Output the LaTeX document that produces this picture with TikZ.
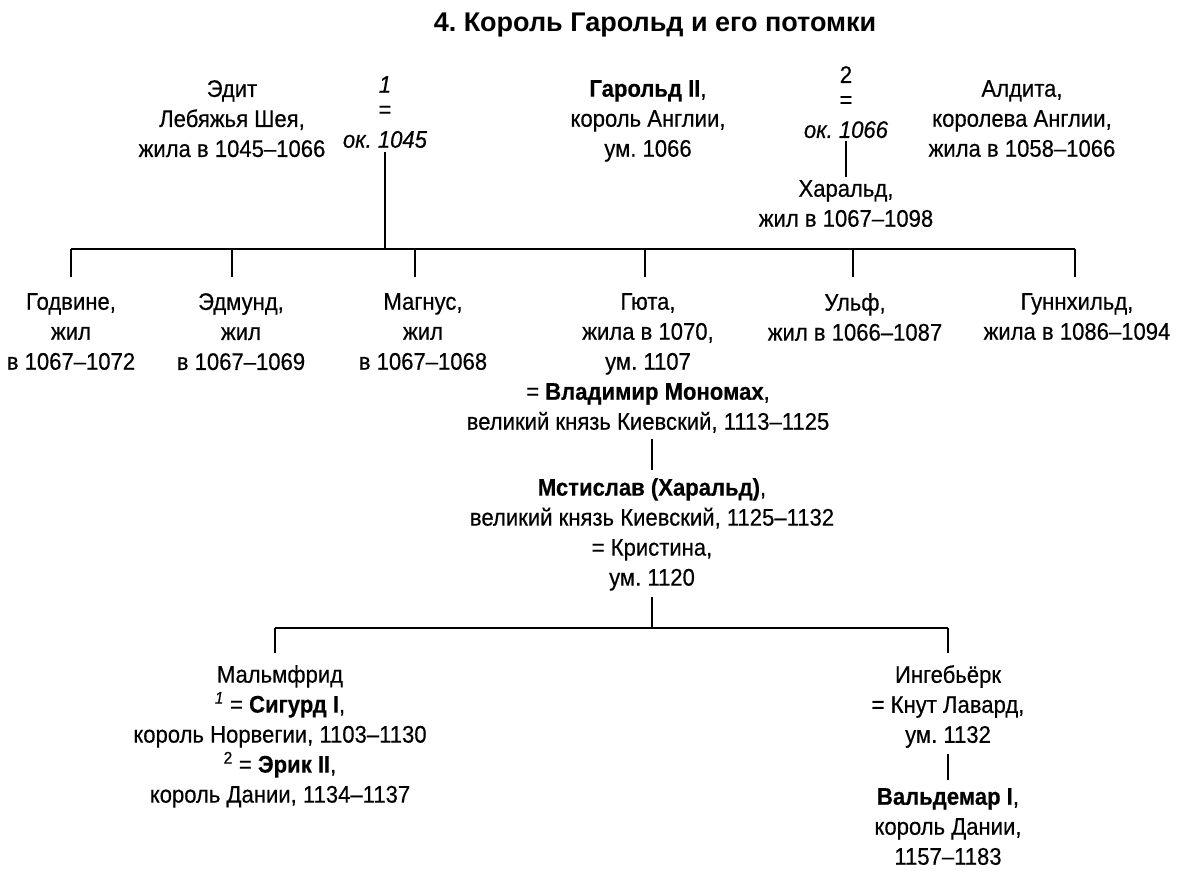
\documentclass[tikz,border=0pt]{standalone}
\usepackage{fontspec}
\setmainfont[FakeStretch=0.92,FakeBold=0.4]{Liberation Sans}
\newfontfamily\titlefont{Liberation Sans}
\frenchspacing

\tikzset{person/.style={align=center,inner sep=0pt,anchor=north,font=\fontsize{24}{30}\selectfont},
  line/.style={line width=1.8pt}}

\begin{document}
\begin{tikzpicture}[x=1pt,y=-1pt]
        \useasboundingbox (0,0) rectangle (1179,879);
        \node[font=\titlefont\bfseries\fontsize{27}{30}\selectfont] (title) at (655,25) {4. Король Гарольд и его потомки};

        \node[person] (edith) at (232,80) {Эдит\\Лебяжья Шея,\\жила в 1045–1066};
        \node[person] (wed1) at (385,76) {\textit{1}\\[-5pt]=\\\textit{ок. 1045}};
        \node[person] (harold) at (648,80) {\textbf{Гарольд II},\\король Англии,\\ум. 1066};
        \node[person] (wed2) at (846,66) {2\\[-5pt]=\\\textit{ок. 1066}};
        \node[person] (aldith) at (1022,80) {Алдита,\\королева Англии,\\жила в 1058–1066};
        \node[person] (harald) at (846,180) {Харальд,\\жил в 1067–1098};

        \node[person] (godwine) at (71,293) {Годвине,\\жил\\в 1067–1072};
        \node[person] (edmund) at (241,293) {Эдмунд,\\жил\\в 1067–1069};
        \node[person] (magnus) at (423,293) {Магнус,\\жил\\в 1067–1068};
        \node[person] (gyta) at (648,293) {Гюта,\\жила в 1070,\\ум. 1107\\= \textbf{Владимир Мономах},\\великий князь Киевский, 1113–1125};
        \node[person] (ulf) at (855,293) {Ульф,\\жил в 1066–1087};
        \node[person] (gunnhild) at (1077,293) {Гуннхильд,\\жила в 1086–1094};

        \node[person] (mstislav) at (652,478) {\textbf{Мстислав (Харальд)},\\великий князь Киевский, 1125–1132\\= Кристина,\\ум. 1120};

        \node[person] (malmfrid) at (280,665) {Мальмфрид\\\textsuperscript{\itshape 1} = \textbf{Сигурд I},\\король Норвегии, 1103–1130\\\textsuperscript{2} = \textbf{Эрик II},\\король Дании, 1134–1137};
        \node[person] (ingeborg) at (948,665) {Ингебьёрк\\= Кнут Лавард,\\ум. 1132};
        \node[person] (valdemar) at (948,788) {\textbf{Вальдемар I},\\король Дании,\\1157–1183};

        \coordinate (bar1w) at (71,249);
        \coordinate (bar1e) at (1075,249);
        \coordinate (bar2w) at (275,628);
        \coordinate (bar2e) at (948,628);

        \draw[line] (bar1w) -- (bar1e);
        \draw[line,shorten <=4pt] (wed1.south) -- (wed1.south |- bar1w);
        \draw[line,shorten <=3pt,shorten >=3pt] (wed2) -- (harald);
        \foreach \n/\x in {godwine/71,edmund/232,magnus/415,gyta/645,ulf/853,gunnhild/1075}
            \draw[line,shorten >=16pt] (\x,249) -- (\x,0 |- \n.north);

        \draw[line,shorten <=6pt,shorten >=8pt] (gyta.south -| mstislav.north) -- (mstislav.north);
        \draw[line,shorten <=6pt] (mstislav.south) -- (mstislav.south |- bar2w);
        \draw[line] (bar2w) -- (bar2e);
        \foreach \n/\x in {malmfrid/275,ingeborg/948}
            \draw[line,shorten >=12pt] (\x,628) -- (\x,0 |- \n.north);
        \draw[line,shorten <=6pt,shorten >=8pt] (ingeborg) -- (valdemar);
    \end{tikzpicture}
\end{document}
